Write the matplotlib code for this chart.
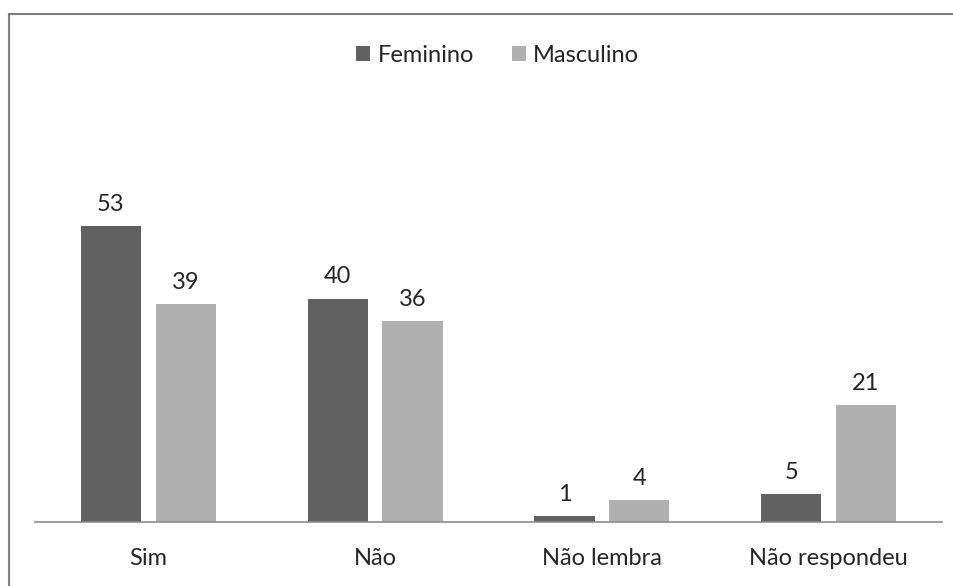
import matplotlib
matplotlib.use("Agg")
import numpy as np
from matplotlib import pyplot as plt
from matplotlib.patches import Rectangle

categorias = ["Sim", "Não", "Não lembra", "Não respondeu"]
feminino = [53, 40, 1, 5]
masculino = [39, 36, 4, 21]

plt.rcParams['font.family'] = ['Lato', 'DejaVu Sans']

fig = plt.figure(figsize=(9.54, 5.86), dpi=100)
W, H = 954, 586
ax = fig.add_axes([35 / W, 1 - 522 / H, (942 - 35) / W, (522 - 80) / H])

# moldura (só topo e esquerda visíveis)
fig.patches.append(Rectangle((9 / W, -0.5), 2, 1.5 - 14 / H,
                             transform=fig.transFigure, fill=False,
                             edgecolor="#7f7f7f", linewidth=1.5))

x = np.arange(len(categorias))
larg = 0.265
b1 = ax.bar(x - 0.165, feminino, larg, color="#616161", label="Feminino")
b2 = ax.bar(x + 0.165, masculino, larg, color="#b0b0b0", label="Masculino")

for barras in (b1, b2):
    for b in barras:
        ax.annotate(str(int(b.get_height())), (b.get_x() + b.get_width() / 2, b.get_height()),
                    xytext=(0, 8), textcoords="offset points", ha="center", va="bottom",
                    fontsize=17, color="#262626")

ax.set_xlim(-0.5, 3.5)
ax.set_ylim(0, (522 - 80) / 5.585)
ax.set_xticks(x)
ax.set_xticklabels(categorias, fontsize=17, color="#262626")
ax.tick_params(axis="x", length=0, pad=19)
ax.set_yticks([])
for s in ["top", "right", "left"]:
    ax.spines[s].set_visible(False)
ax.spines["bottom"].set_color("#8c8c8c")
ax.spines["bottom"].set_linewidth(1.2)

ax.legend(loc="upper center", bbox_to_anchor=(0.51, 1.127), ncol=2, frameon=False,
          fontsize=17, handlelength=0.6, handleheight=0.6, handletextpad=0.3,
          columnspacing=1.6, labelcolor="#262626")

fig.savefig("out.png", dpi=100)
